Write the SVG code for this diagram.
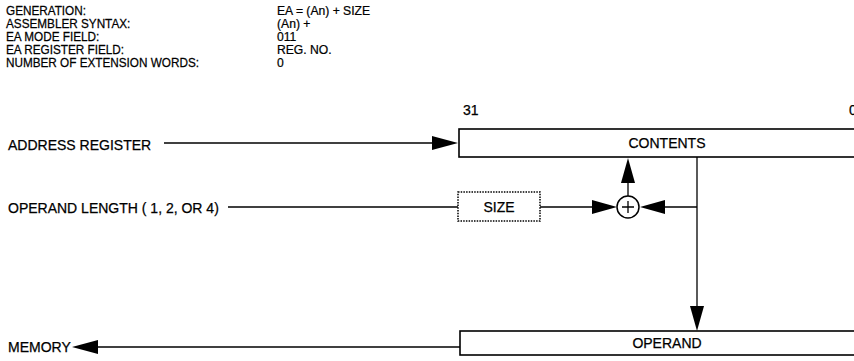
<svg xmlns="http://www.w3.org/2000/svg" width="854" height="361" viewBox="0 0 854 361">
<style>
text{font-family:"Liberation Sans",Arial,sans-serif;font-size:14px;fill:#000;stroke:#000;stroke-width:0.25}
.hd text{font-size:13.5px}
.c{text-anchor:middle}
.box{fill:#fff;stroke:#000;stroke-width:1.6}
.dot{fill:#fff;stroke:#000;stroke-width:1.5;stroke-dasharray:1.5,1.2}
.ln{fill:none;stroke:#000;stroke-width:1.3}
.ah{fill:#000;stroke:none}
</style>
<g id="header">
<g class="hd" transform="translate(6,0) scale(0.87,1)">
<text x="0" y="15">GENERATION:</text>
<text x="0" y="28">ASSEMBLER SYNTAX:</text>
<text x="0" y="41">EA MODE FIELD:</text>
<text x="0" y="54">EA REGISTER FIELD:</text>
<text x="0" y="67">NUMBER OF EXTENSION WORDS:</text>
</g>
<g class="hd" transform="translate(277,0) scale(0.9,1)">
<text x="0" y="15">EA = (An) + SIZE</text>
<text x="0" y="28">(An) +</text>
<text x="0" y="41">011</text>
<text x="0" y="54">REG. NO.</text>
<text x="0" y="67">0</text>
</g>
</g>
<g id="labels">
<text x="8" y="150">ADDRESS REGISTER</text>
<text x="8" y="213">OPERAND LENGTH ( 1, 2, OR 4)</text>
<text x="8" y="352">MEMORY</text>
<text x="463" y="115">31</text>
<text x="849" y="115">0</text>
</g>
<g id="contents">
<rect class="box" x="459" y="129" width="400" height="28"/>
<text class="c" x="667" y="148">CONTENTS</text>
</g>
<g id="size">
<rect class="dot" x="458" y="192" width="82" height="29"/>
<text class="c" x="499" y="212">SIZE</text>
</g>
<g id="adder">
<circle cx="628" cy="207" r="11" fill="#fff" stroke="#000" stroke-width="1.5"/>
<path class="ln" d="M622,207 H634 M628,201 V213"/>
</g>
<g id="operand">
<rect class="box" x="460" y="331" width="400" height="24"/>
<text class="c" x="667" y="348">OPERAND</text>
</g>
<g id="connectors">
<path class="ln" d="M164,143 H434"/>
<polygon class="ah" points="432,136 458,143 432,150"/>
<path class="ln" d="M228,207 H458"/>
<path class="ln" d="M540,207 H593"/>
<polygon class="ah" points="592,200 617,207 592,214"/>
<path class="ln" d="M697,157 V308"/>
<polygon class="ah" points="690,306 697,331 704,306"/>
<path class="ln" d="M697,207 H664"/>
<polygon class="ah" points="665,200 640,207 665,214"/>
<path class="ln" d="M628,196 V182"/>
<polygon class="ah" points="621,183 628,158 635,183"/>
<path class="ln" d="M460,347 H96"/>
<polygon class="ah" points="98,340 72,347 98,354"/>
</g>
</svg>
